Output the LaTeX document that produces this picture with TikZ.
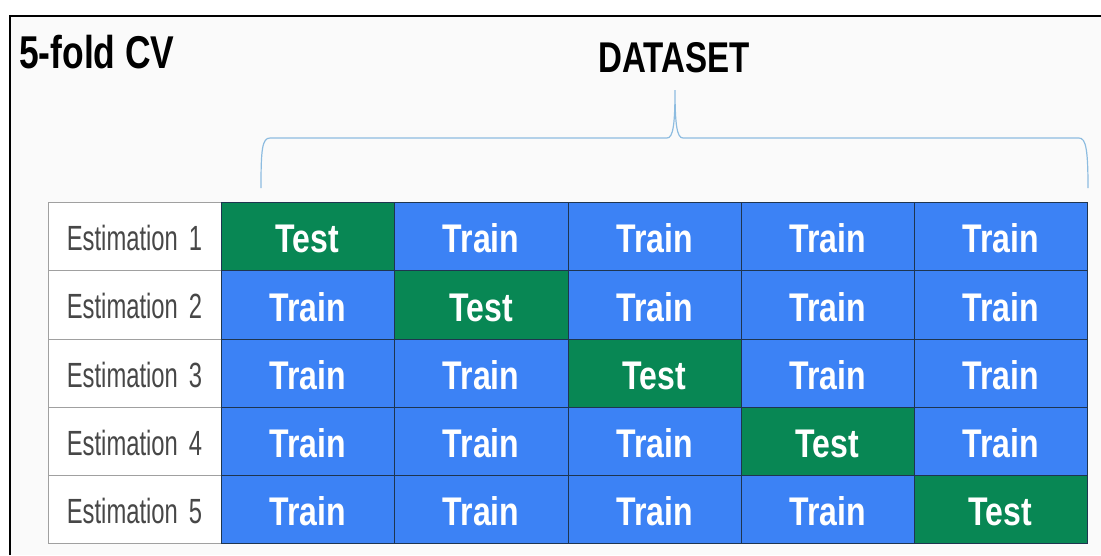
\documentclass[tikz,border=0pt]{standalone}
\usepackage{fontspec}
\setmainfont{Liberation Sans}
\newfontfamily\cellfont{Liberation Sans}[FakeStretch=0.80]
\newfontfamily\labfont{Liberation Sans}[FakeStretch=0.68]
\newfontfamily\titlefont{Liberation Sans}[FakeStretch=0.77]
\definecolor{bggray}{HTML}{FAFAFA}
\definecolor{tgreen}{HTML}{088754}
\definecolor{tblue}{HTML}{3C82F5}
\definecolor{cellline}{HTML}{1E3550}
\definecolor{labline}{HTML}{A0A0A0}
\definecolor{labtext}{HTML}{474747}
\definecolor{bracecol}{HTML}{8DBCE0}
\tikzset{
  cellbox/.style={draw=cellline, line width=0.8pt, inner sep=0pt, text=white,
    font=\cellfont\bfseries\fontsize{40}{44}\selectfont, text height=33pt, text depth=0pt},
  labbox/.style={draw=labline, fill=white, line width=1pt, inner sep=0pt, text=labtext,
    font=\labfont\fontsize{35}{40}\selectfont, text height=28pt, text depth=0pt},
  titletext/.style={font=\titlefont\bfseries\fontsize{46}{50}\selectfont, inner sep=0pt},
  headtext/.style={font=\titlefont\bfseries\fontsize{43}{48}\selectfont, inner sep=0pt},
}
\begin{document}
\begin{tikzpicture}[x=1pt,y=-1pt]
\fill[white] (0,0) rectangle (1101,555);
\useasboundingbox (0,0) rectangle (1101,555);
\fill[bggray] (10,16) rectangle (1101,555);
\draw[line width=2.5pt] (10,555) -- (10,16) -- (1101,16);
\node[titletext, anchor=base west] (title) at (19,68) {5-fold CV};
\node[headtext, anchor=base] (dataset) at (674,72) {DATASET};
% brace
\coordinate (bl) at (261,188);
\coordinate (br) at (1088,188);
\coordinate (bp) at (675,90);
\draw[bracecol, line width=1.2pt] (bl) .. controls (261,150) and (262,138) .. (270,138) -- (667,138)
  .. controls (673,138) and (675,125) .. (bp)
  .. controls (675,125) and (677,138) .. (683,138) -- (1079,138)
  .. controls (1086,138) and (1088,150) .. (br);
% table
\foreach \r/\ya/\yb in {1/202/270, 2/270/339, 3/339/407, 4/407/475, 5/475/543}{
  \node[labbox, minimum width=173pt, minimum height={\yb pt-\ya pt}]
    (lab\r) at ({(48+221)/2},{(\ya+\yb)/2}) {Estimation\hspace{11pt}\r};
  \foreach \c/\xa/\xb in {1/221/394, 2/394/568, 3/568/741, 4/741/914, 5/914/1087}{
    \ifnum\r=\c\relax
      \def\cc{tgreen}\def\celltxt{Test}
    \else
      \def\cc{tblue}\def\celltxt{Train}
    \fi
    \node[cellbox, fill=\cc, minimum width={\xb pt-\xa pt}, minimum height={\yb pt-\ya pt}]
      (c\r\c) at ({(\xa+\xb)/2},{(\ya+\yb)/2}) {\celltxt};
  }
}
\end{tikzpicture}
\end{document}
